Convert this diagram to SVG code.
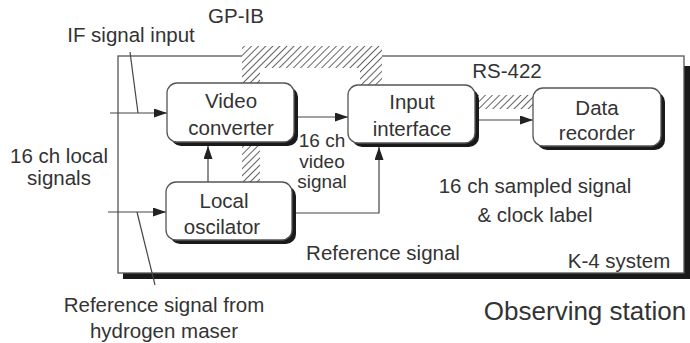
<svg xmlns="http://www.w3.org/2000/svg" width="690" height="343" viewBox="0 0 690 343">
<defs>
<pattern id="hatch" patternUnits="userSpaceOnUse" width="5" height="5" patternTransform="rotate(45)">
<rect width="5" height="5" fill="#fff"/>
<line x1="0" y1="0" x2="0" y2="5" stroke="#555" stroke-width="1.8"/>
</pattern>
<marker id="arr" markerUnits="userSpaceOnUse" markerWidth="14" markerHeight="10" refX="13" refY="4.5" orient="auto">
<path d="M0,0 L13,4.5 L0,9 z" fill="#222"/>
</marker>
</defs>
<style>
text{font-family:"Liberation Sans",Arial,sans-serif;font-size:20.5px;fill:#333;text-anchor:middle}
.sm{font-size:19px}
.sh{fill:#1a1a1a}
.bx{fill:#fff;stroke:#555;stroke-width:1.3}
.ln{fill:none;stroke:#444;stroke-width:1.2}
.bus{fill:url(#hatch);stroke:none}
</style>
<rect width="690" height="343" fill="#fff"/>
<g id="k4-system">
<rect x="123" y="66" width="567" height="213" class="sh"/>
<rect x="118" y="56" width="566" height="217" fill="#fff" stroke="#555" stroke-width="1.3"/>
<text x="619" y="268">K-4 system</text>
</g>
<g id="gpib-bus">
<polygon class="bus" points="242,46 382,46 382,86 360,86 360,68 260,68 260,183 242,183"/>
<text x="236" y="23">GP-IB</text>
</g>
<g id="rs422-bus">
<rect class="bus" x="476" y="95" width="58" height="14"/>
<text x="507" y="78">RS-422</text>
</g>
<g id="connectors">
<line class="ln" x1="110" y1="113" x2="167" y2="113" marker-end="url(#arr)"/>
<line class="ln" x1="130" y1="52" x2="138" y2="113"/>
<line class="ln" x1="108" y1="212" x2="166" y2="212" marker-end="url(#arr)"/>
<line class="ln" x1="137" y1="212" x2="155" y2="285"/>
<line class="ln" x1="208" y1="182" x2="208" y2="146" marker-end="url(#arr)"/>
<line class="ln" x1="298" y1="117" x2="348" y2="117" marker-end="url(#arr)"/>
<polyline class="ln" points="296,213 379,213 379,147" marker-end="url(#arr)"/>
<line class="ln" x1="479" y1="120" x2="533" y2="120" marker-end="url(#arr)"/>
</g>
<g id="video-converter">
<rect x="171" y="87" width="127" height="59" rx="10" class="sh"/>
<rect x="167" y="83" width="127" height="59" rx="10" class="bx"/>
<text x="231" y="108">Video</text>
<text x="231" y="135">converter</text>
</g>
<g id="input-interface">
<rect x="352" y="89" width="127" height="58" rx="10" class="sh"/>
<rect x="348" y="85" width="127" height="58" rx="10" class="bx"/>
<text x="412" y="109">Input</text>
<text x="412" y="136">interface</text>
</g>
<g id="data-recorder">
<rect x="537" y="92" width="128" height="58" rx="10" class="sh"/>
<rect x="533" y="88" width="128" height="58" rx="10" class="bx"/>
<text x="597" y="115">Data</text>
<text x="597" y="140">recorder</text>
</g>
<g id="local-oscillator">
<rect x="170" y="186" width="126" height="58" rx="10" class="sh"/>
<rect x="166" y="182" width="126" height="58" rx="10" class="bx"/>
<text x="224" y="208">Local</text>
<text x="222" y="234">oscilator</text>
</g>
<g id="labels">
<text x="131" y="42">IF signal input</text>
<text x="59" y="163">16 ch local</text>
<text x="59" y="185">signals</text>
<text class="sm" x="322" y="147">16 ch</text>
<text class="sm" x="322" y="168">video</text>
<text class="sm" x="322" y="188">signal</text>
<text x="535" y="193">16 ch sampled signal</text>
<text x="535" y="222">&amp; clock label</text>
<text x="383" y="260">Reference signal</text>
<text x="164" y="312">Reference signal from</text>
<text x="164" y="338">hydrogen maser</text>
<text x="585" y="320" style="font-size:26px">Observing station</text>
</g>
</svg>
